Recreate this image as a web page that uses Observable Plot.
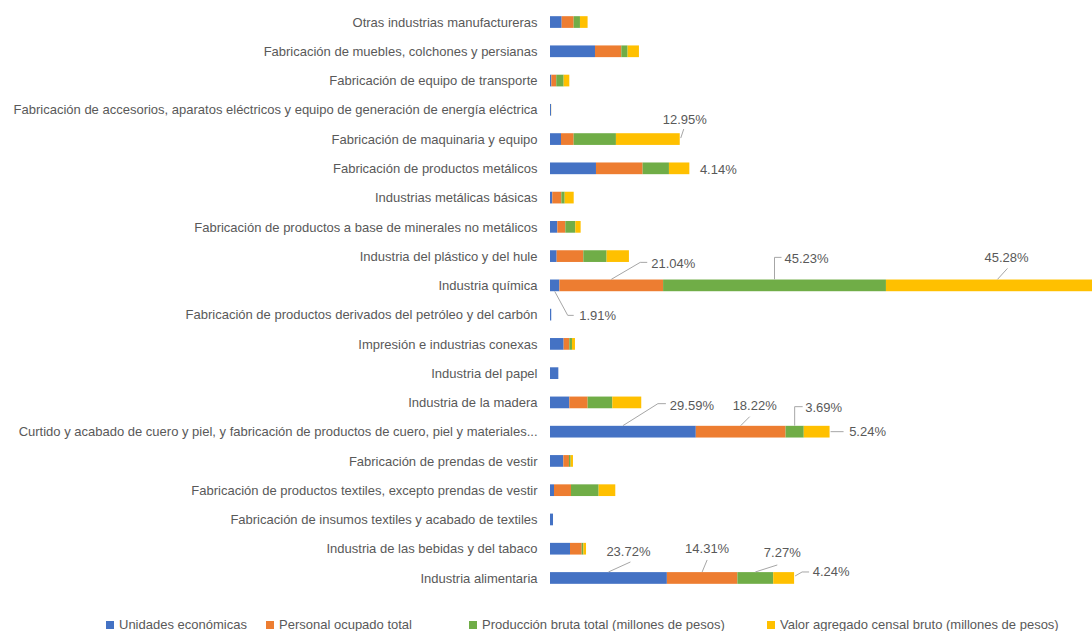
<!DOCTYPE html>
<html><head><meta charset="utf-8">
<script src="https://cdn.jsdelivr.net/npm/d3@7"></script>
<script src="https://cdn.jsdelivr.net/npm/@observablehq/plot@0.6"></script>
<style>
body{margin:0;background:#fff;font-family:"Liberation Sans",Arial,sans-serif;}
#chart{position:relative;width:1092px;height:631px;overflow:hidden;}
#legend{position:absolute;top:617px;left:0;width:1092px;height:16px;font-size:13px;color:#595959;}
.item{position:absolute;top:0;display:flex;align-items:center;white-space:nowrap;line-height:16px;}
.sw{width:8px;height:8px;margin-right:5px;}
</style></head><body><div id="chart"></div>
<script>
const categories = [
  "Otras industrias manufactureras",
  "Fabricación de muebles, colchones y persianas",
  "Fabricación de equipo de transporte",
  "Fabricación de accesorios, aparatos eléctricos y equipo de generación de energía eléctrica",
  "Fabricación de maquinaria y equipo",
  "Fabricación de productos metálicos",
  "Industrias metálicas básicas",
  "Fabricación de productos a base de minerales no metálicos",
  "Industria del plástico y del hule",
  "Industria química",
  "Fabricación de productos derivados del petróleo y del carbón",
  "Impresión e industrias conexas",
  "Industria del papel",
  "Industria de la madera",
  "Curtido y acabado de cuero y piel, y fabricación de productos de cuero, piel y materiales...",
  "Fabricación de prendas de vestir",
  "Fabricación de productos textiles, excepto prendas de vestir",
  "Fabricación de insumos textiles y acabado de textiles",
  "Industria de las bebidas y del tabaco",
  "Industria alimentaria"
];
const seriesNames = [
  "Unidades económicas",
  "Personal ocupado total",
  "Producción bruta total (millones de pesos)",
  "Valor agregado censal bruto (millones de pesos)"
];
const unidades   = [2.37, 9.13, 0.27, 0.20, 2.23, 9.33, 0.47, 1.49, 1.35, 1.91, 0.25, 2.77, 1.69, 3.92, 29.59, 2.70, 0.81, 0.61, 4.06, 23.72];
const personal   = [2.43, 5.34, 1.00, 0.02, 2.57, 9.47, 1.83, 1.62, 5.41, 21.04, 0.00, 1.15, 0.00, 3.72, 18.22, 1.15, 3.45, 0.00, 2.37, 14.31];
const produccion = [1.28, 1.28, 1.50, 0.01, 8.58, 5.34, 0.68, 2.03, 4.73, 45.23, 0.00, 0.54, 0.00, 5.00, 3.69, 0.34, 5.61, 0.00, 0.34, 7.27];
const valor      = [1.55, 2.30, 1.15, 0.01, 12.95, 4.14, 1.83, 1.08, 4.53, 45.28, 0.00, 0.61, 0.00, 5.88, 5.24, 0.47, 3.38, 0.00, 0.54, 4.24];

// which values carry a data label (category index, series index)
const labelledCategory = [4, 5, 9, 9, 9, 9, 14, 14, 14, 14, 19, 19, 19, 19];
const labelledSeries   = [3, 3, 0, 1, 2, 3, 0, 1, 2, 3, 0, 1, 2, 3];

// style: label placement relative to the segment anchor (pixels)
const labelLayout = [
  {anchor:"end", t:[5,-20], leader:[[1,-1],[4,-10]]},
  {anchor:"end", t:[29,1], leader:null},
  {anchor:"mid", t:[43,30], leader:[[0,6],[13,30],[19,30]]},
  {anchor:"mid", t:[62,-22], leader:[[0,-6],[29,-23],[36,-23]]},
  {anchor:"mid", t:[32,-27], leader:[[0,-6],[0,-28],[7,-28]]},
  {anchor:"mid", t:[9,-28], leader:[[0,-6],[10,-17]]},
  {anchor:"mid", t:[69,-26], leader:[[0,-6],[35,-28],[43,-28]]},
  {anchor:"mid", t:[14,-26], leader:[[0,-6],[9,-15]]},
  {anchor:"mid", t:[29,-24], leader:[[0,-6],[0,-25],[8,-25]]},
  {anchor:"end", t:[38,0], leader:[[1,0],[14,0]]},
  {anchor:"mid", t:[20,-26], leader:[[0,-6],[22,-16]]},
  {anchor:"mid", t:[5,-29], leader:[[0,-6],[5,-18]]},
  {anchor:"mid", t:[27,-25], leader:[[0,-6],[22,-13]]},
  {anchor:"end", t:[37,-6], leader:[[1,-2],[8,-6],[15,-6]]}
];
const colors = ["#4472C4", "#ED7D31", "#70AD47", "#FFC000"];
const legendLeft = [106, 266, 469, 767];

const seriesValues = [unidades, personal, produccion, valor];
const rows = categories.flatMap((c, i) => seriesNames.map((s, j) => ({category: c, series: s, value: seriesValues[j][i]})));

const plot = Plot.plot({
  width: 1092, height: 605,
  marginLeft: 550, marginRight: 0, marginTop: 7.4, marginBottom: 12.4,
  x: {domain: [0, 110], axis: null},
  y: {domain: categories, paddingInner: 0.6, paddingOuter: 0.3, round: false, label: null, tickSize: 0, tickPadding: 13},
  color: {domain: seriesNames, range: colors},
  style: {fontFamily: "'Liberation Sans', Arial, sans-serif", fontSize: "13px", color: "#595959", background: "#fff"},
  marks: [
    Plot.barX(rows, {x: "value", y: "category", fill: "series", clip: true})
  ]
});
document.getElementById("chart").appendChild(plot);

const xs = plot.scale("x"), ys = plot.scale("y");
const svg = d3.select(plot);
const g = svg.append("g");
labelledCategory.forEach((ci, k) => {
  const sj = labelledSeries[k];
  let start = 0;
  for (let j = 0; j < sj; j++) start += seriesValues[j][ci];
  const v = seriesValues[sj][ci];
  const lay = labelLayout[k];
  const ax = xs.apply(lay.anchor === "mid" ? start + v / 2 : start + v);
  const ay = ys.apply(categories[ci]) + ys.bandwidth / 2;
  if (lay.leader) {
    g.append("path")
      .attr("d", d3.line()(lay.leader.map(p => [ax + p[0], ay + p[1]])))
      .attr("fill", "none").attr("stroke", "#A6A6A6").attr("stroke-width", 1);
  }
  g.append("text")
    .attr("x", ax + lay.t[0]).attr("y", ay + lay.t[1])
    .attr("text-anchor", "middle").attr("dominant-baseline", "central")
    .attr("font-size", 13).attr("fill", "#595959")
    .text(v.toFixed(2) + "%");
});

const legend = document.createElement("div");
legend.id = "legend";
seriesNames.forEach((s, j) => {
  const it = document.createElement("div");
  it.className = "item";
  it.style.left = legendLeft[j] + "px";
  const sw = document.createElement("span");
  sw.className = "sw"; sw.style.background = colors[j];
  const tx = document.createElement("span");
  tx.textContent = s;
  it.appendChild(sw); it.appendChild(tx);
  legend.appendChild(it);
});
document.getElementById("chart").appendChild(legend);
</script></body></html>
